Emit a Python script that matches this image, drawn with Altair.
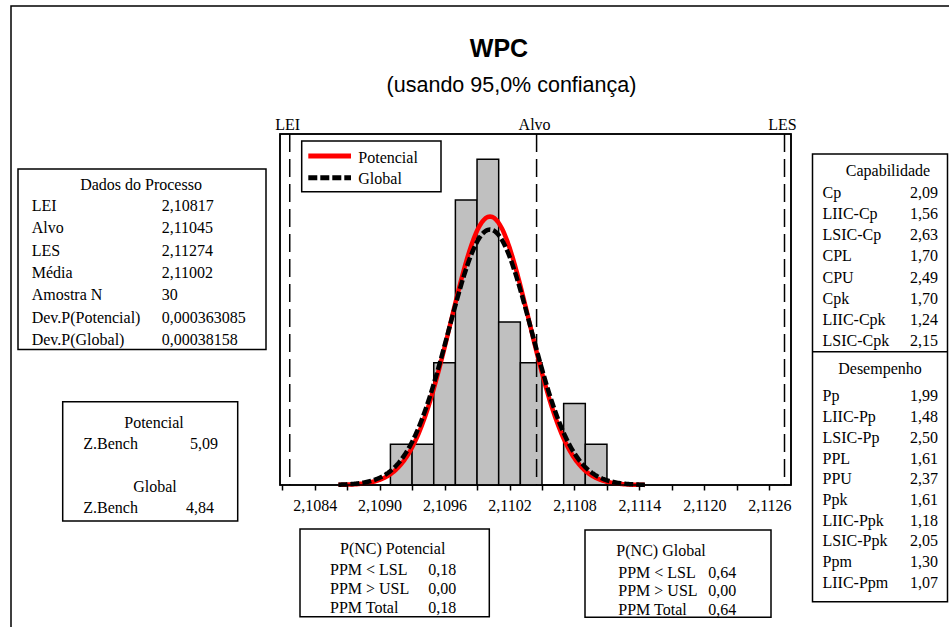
import altair as alt
import pandas as pd

# ---------------- data ----------------
bin_starts = [2.1091, 2.1093, 2.1095, 2.1097, 2.1099, 2.1101, 2.1103, 2.1105, 2.1107, 2.1109]
bin_ends = [2.1093, 2.1095, 2.1097, 2.1099, 2.1101, 2.1103, 2.1105, 2.1107, 2.1109, 2.1111]
bin_counts = [1, 1, 3, 7, 8, 4, 3, 0, 2, 1]

spec_names = ["LEI", "Alvo", "LES"]
spec_values = [2.10817, 2.11045, 2.11274]

mean_value = 2.11002
sd_potencial = 0.000363085
sd_global = 0.00038158
sample_n = 30
bin_width = 0.0002
curve_start = 2.10862
curve_stop = 2.11146
curve_step = 0.00001

tick_values = [2.1081, 2.1084, 2.1087, 2.1090, 2.1093, 2.1096, 2.1099, 2.1102,
               2.1105, 2.1108, 2.1111, 2.1114, 2.1117, 2.1120, 2.1123, 2.1126]
labeled_ticks = ["2.1084", "2.1090", "2.1096", "2.1102", "2.1108", "2.1114", "2.1120", "2.1126"]

title_text = "WPC"
subtitle_text = "(usando 95,0% confiança)"
legend_labels = ["Potencial", "Global"]

dados_header = "Dados do Processo"
dados_labels = ["LEI", "Alvo", "LES", "Média", "Amostra N", "Dev.P(Potencial)", "Dev.P(Global)"]
dados_values = ["2,10817", "2,11045", "2,11274", "2,11002", "30", "0,000363085", "0,00038158"]

zbench_headers = ["Potencial", "Global"]
zbench_labels = ["Z.Bench", "Z.Bench"]
zbench_values = ["5,09", "4,84"]

cap_header = "Capabilidade"
cap_labels = ["Cp", "LIIC-Cp", "LSIC-Cp", "CPL", "CPU", "Cpk", "LIIC-Cpk", "LSIC-Cpk"]
cap_values = ["2,09", "1,56", "2,63", "1,70", "2,49", "1,70", "1,24", "2,15"]
perf_header = "Desempenho"
perf_labels = ["Pp", "LIIC-Pp", "LSIC-Pp", "PPL", "PPU", "Ppk", "LIIC-Ppk", "LSIC-Ppk", "Ppm", "LIIC-Ppm"]
perf_values = ["1,99", "1,48", "2,50", "1,61", "2,37", "1,61", "1,18", "2,05", "1,30", "1,07"]

ppm_labels = ["PPM < LSL", "PPM > USL", "PPM Total"]
ppm_pot_header = "P(NC) Potencial"
ppm_pot_values = ["0,18", "0,00", "0,18"]
ppm_glob_header = "P(NC) Global"
ppm_glob_values = ["0,64", "0,00", "0,64"]

# ---------------- layout ----------------
SERIF = "Liberation Serif"
SANS = "Liberation Sans"
W, H = 511, 351

xscale = alt.Scale(domain=[2.10808, 2.11280], nice=False, zero=False)
yscale = alt.Scale(domain=[0, 8.62], nice=False, zero=True)

label_list = "[" + ",".join("'" + t + "'" for t in labeled_ticks) + "]"
xaxis = alt.Axis(
    values=tick_values,
    labelExpr="indexof(" + label_list + ", format(datum.value, '.4f')) >= 0 ? "
              "replace(format(datum.value, '.4f'), '.', ',') : ''",
    title=None, grid=False, domain=False, ticks=True, tickSize=5, tickWidth=1.5,
    tickColor="black", labelColor="black", labelFont=SERIF, labelFontSize=16,
    labelPadding=7, labelOverlap=False, labelFlush=False, labelBound=False, zindex=1,
)


def X(field):
    return alt.X(field, type="quantitative", scale=xscale, axis=xaxis)


def Y(field):
    return alt.Y(field, type="quantitative", scale=yscale, axis=None)


one = pd.DataFrame({"k": [0]})


def box(x1, y1, x2, y2, sw=1.5, fill="transparent"):
    return alt.Chart(one).mark_rect(fill=fill, stroke="black", strokeWidth=sw).encode(
        x=alt.value(x1), x2=alt.value(x2), y=alt.value(y1), y2=alt.value(y2))


def hline(x1, x2, y, sw=1.5):
    return alt.Chart(one).mark_rule(color="black", strokeWidth=sw).encode(
        x=alt.value(x1), x2=alt.value(x2), y=alt.value(y))


def txt(lines, x, y, align="left", lh=22, size=16, font=SERIF, weight="normal"):
    return alt.Chart(one).mark_text(
        text=lines, align=align, baseline="alphabetic", lineHeight=lh,
        fontSize=size, font=font, fontWeight=weight, color="black",
    ).encode(x=alt.value(x), y=alt.value(y))


layers = []

# outer border
layers.append(box(-269, -128, 700, 520))

# titles
layers.append(txt(title_text, 219, -77.5, align="center", size=25, font=SANS, weight="bold"))
layers.append(txt(subtitle_text, 231.5, -42, align="center", size=21.5, font=SANS))

# Dados do Processo
layers.append(box(-262, 35, -14, 215.5))
layers.append(txt(dados_header, -139, 56.3, align="center"))
layers.append(txt(dados_labels, -248.3, 77, lh=22.3))
layers.append(txt(dados_values, -118.3, 77, lh=22.3))

# Z.Bench box
layers.append(box(-217.3, 267.7, -42.3, 387))
layers.append(txt(zbench_headers[0], -126, 294, align="center"))
layers.append(txt(zbench_labels[0], -196.7, 314.6))
layers.append(txt(zbench_values[0], -62, 314.6, align="right"))
layers.append(txt(zbench_headers[1], -125, 358, align="center"))
layers.append(txt(zbench_labels[1], -196.7, 378.6))
layers.append(txt(zbench_values[1], -66, 378.6, align="right"))

# Capabilidade / Desempenho
layers.append(box(532.5, 20, 667.5, 467.7))
layers.append(hline(532.5, 667.5, 217.7))
layers.append(txt(cap_header, 608, 42, align="center"))
layers.append(txt(cap_labels, 542.5, 64, lh=21.14))
layers.append(txt(cap_values, 658, 64, align="right", lh=21.14))
layers.append(txt(perf_header, 600, 239.6, align="center"))
layers.append(txt(perf_labels, 542.5, 267.3, lh=20.74))
layers.append(txt(perf_values, 658, 267.3, align="right", lh=20.74))

# PPM boxes
layers.append(box(20, 395, 209.3, 482.7))
layers.append(txt(ppm_pot_header, 112.7, 419.6, align="center"))
layers.append(txt(ppm_labels, 50, 441.3, lh=19))
layers.append(txt(ppm_pot_values, 148.3, 441.3, lh=19))

layers.append(txt(ppm_glob_header, 381, 422, align="center"))
layers.append(txt(ppm_labels, 338.3, 444, lh=18.3))
layers.append(txt(ppm_glob_values, 428.3, 444, lh=18.3))
layers.append(box(305, 396, 491, 483.3))

# histogram
hist_df = pd.DataFrame({"start": bin_starts, "end": bin_ends, "count": bin_counts})
layers.append(
    alt.Chart(hist_df).mark_rect(fill="#C0C0C0", stroke="black", strokeWidth=1.5).encode(
        x=X("start"), x2="end:Q", y=Y("count"), y2=alt.datum(0))
)

# spec lines
spec_df = pd.DataFrame({"name": spec_names, "value": spec_values})
layers.append(
    alt.Chart(spec_df).mark_rule(color="black", strokeWidth=1.5, strokeDash=[18, 7]).encode(x=X("value"))
)
layers.append(
    alt.Chart(spec_df).mark_text(baseline="alphabetic", align="center", dx=-2, fontSize=16,
                                 font=SERIF, color="black").encode(
        x=X("value"), y=alt.value(-4), text="name:N")
)

# fitted curves
seq = alt.sequence(curve_start, curve_stop, curve_step, as_="x")
layers.append(
    alt.Chart(seq).transform_calculate(
        d=f"{sample_n}*{bin_width}*densityNormal(datum.x, {mean_value}, {sd_potencial})"
    ).mark_line(color="#FF0000", strokeWidth=4.5).encode(x=X("x"), y=Y("d"))
)
layers.append(
    alt.Chart(seq).transform_calculate(
        d=f"{sample_n}*{bin_width}*densityNormal(datum.x, {mean_value}, {sd_global})"
    ).mark_line(color="black", strokeWidth=4.5, strokeDash=[9, 3]).encode(x=X("x"), y=Y("d"))
)

# legend
layers.append(box(21.7, 7, 161, 57.7, fill="white"))
layers.append(alt.Chart(one).mark_rule(color="#FF0000", strokeWidth=5).encode(
    x=alt.value(28.3), x2=alt.value(71), y=alt.value(22)))
layers.append(alt.Chart(one).mark_rule(color="black", strokeWidth=5, strokeDash=[9, 3]).encode(
    x=alt.value(28.3), x2=alt.value(71), y=alt.value(43.7)))
layers.append(txt(legend_labels, 78.3, 29, lh=20.6))

# plot frame
layers.append(box(0, 0, W, H))

chart = alt.layer(*layers).properties(
    width=W, height=H,
    autosize=alt.AutoSizeParams(type="none"),
    padding={"left": 280, "top": 134, "right": 158, "bottom": 142},
    background="white",
).configure_view(stroke="black", strokeWidth=1.5)

chart.save("out.html", embed_options={"renderer": "svg", "actions": False})
